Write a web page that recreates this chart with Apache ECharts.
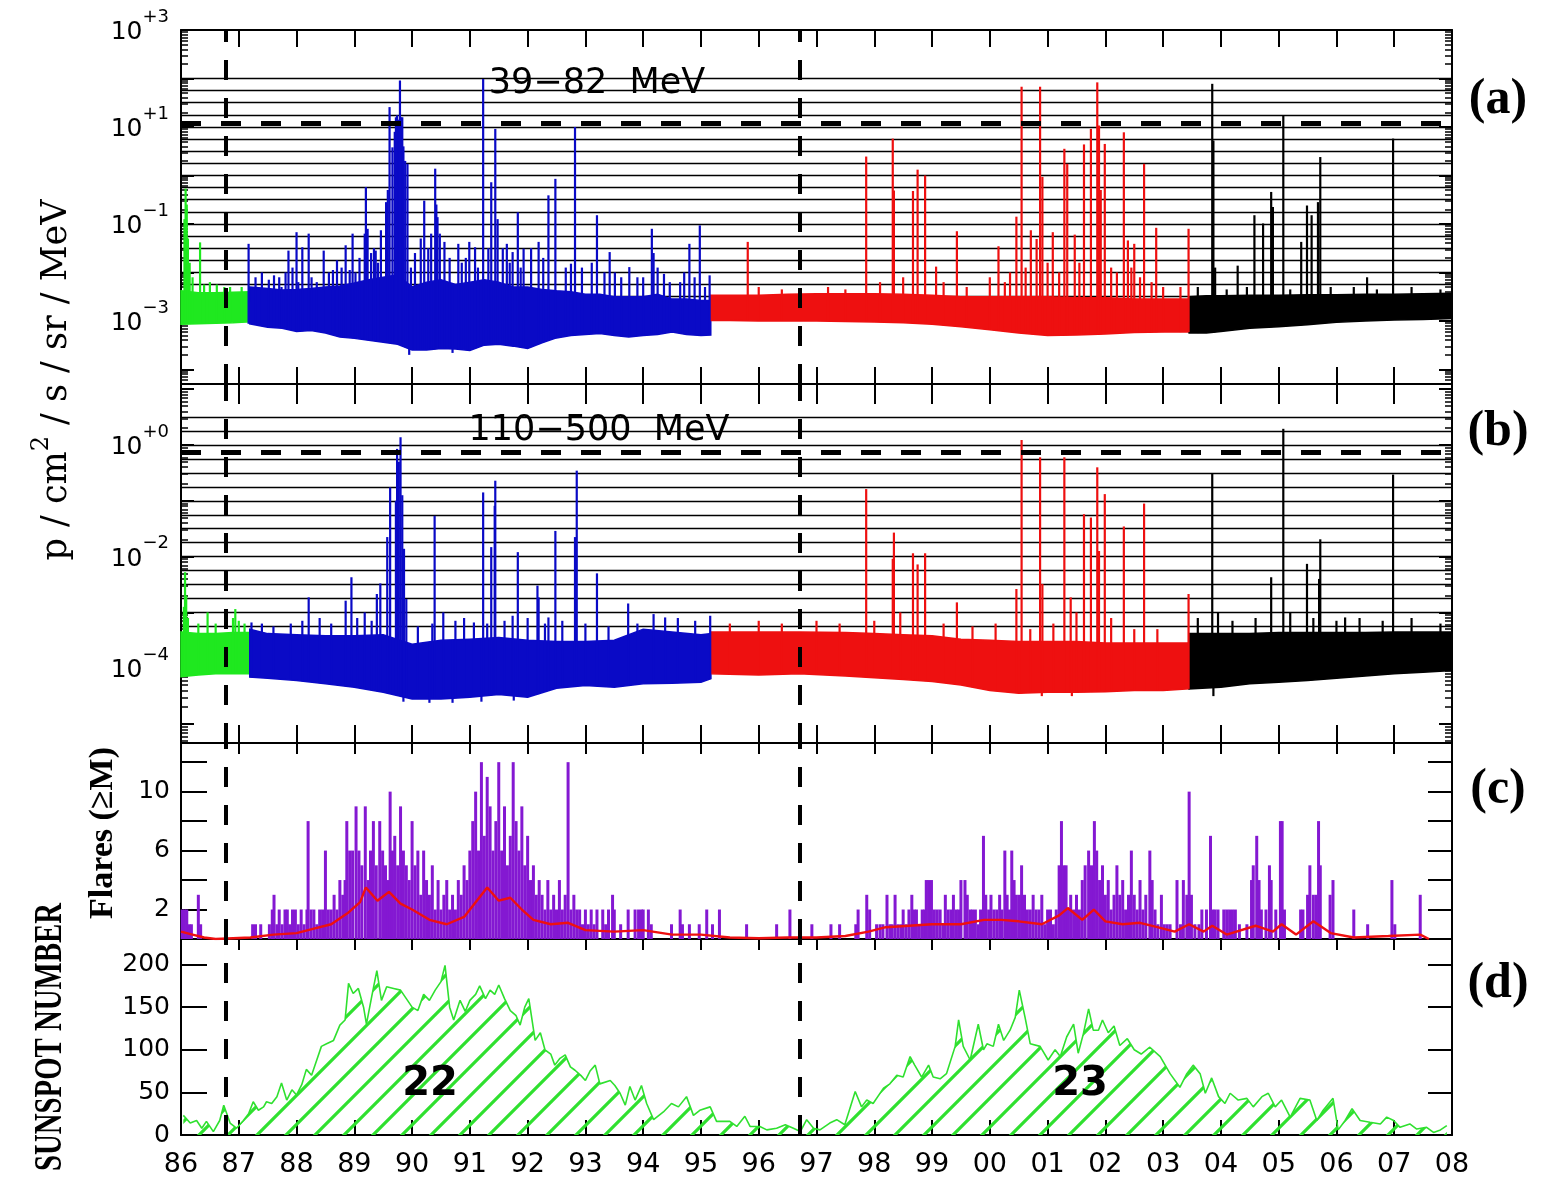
<!DOCTYPE html>
<html><head><meta charset="utf-8">
<script src="https://cdn.jsdelivr.net/npm/echarts@6/dist/echarts.min.js"></script>
<style>html,body{margin:0;padding:0;background:#fff;}#c{width:1543px;height:1185px;}</style>
</head><body><div id="c"></div>
<script>
// ---------------- DATA (years as decimal years; particle fluxes as log10 exponents) ----------------
const xTickLabels = ['86','87','88','89','90','91','92','93','94','95','96','97','98','99','00','01','02','03','04','05','06','07','08'];
const minimaYears = [1986.78, 1996.71];
const aYLabelExps = [-3, -1, 1, 3];
const bYLabelExps = [-4, -2, 0];
const aThreshold = 1.07;   // log10 of dashed level, panel a
const bThreshold = -0.125; // log10 of dashed level, panel b

// Panel (a) 39-82 MeV : background band envelopes
const aGreenT  = [1986.0, 1986.3, 1986.6, 1986.9, 1987.19];
const aGreenHi = [-2.38, -2.42, -2.42, -2.41, -2.40];
const aGreenLo = [-3.07, -3.06, -3.05, -3.04, -3.02];
const aBlueT  = [1987.19,1987.5,1987.75,1988.0,1988.25,1988.5,1988.75,1989.0,1989.25,1989.5,1989.75,1990.0,1990.25,1990.5,1990.75,1991.0,1991.25,1991.5,1991.75,1992.0,1992.25,1992.5,1992.75,1993.0,1993.25,1993.5,1993.75,1994.0,1994.25,1994.5,1994.75,1995.0,1995.17];
const aBlueHi = [-2.30,-2.33,-2.36,-2.35,-2.33,-2.30,-2.28,-2.22,-2.15,-2.10,-2.05,-2.30,-2.20,-2.15,-2.25,-2.20,-2.15,-2.20,-2.30,-2.30,-2.35,-2.38,-2.40,-2.45,-2.45,-2.50,-2.50,-2.50,-2.45,-2.55,-2.55,-2.58,-2.58];
const aBlueLo = [-3.06,-3.13,-3.15,-3.22,-3.20,-3.25,-3.33,-3.36,-3.40,-3.44,-3.48,-3.60,-3.60,-3.57,-3.58,-3.61,-3.50,-3.48,-3.52,-3.57,-3.45,-3.35,-3.30,-3.28,-3.26,-3.30,-3.33,-3.30,-3.28,-3.23,-3.28,-3.30,-3.29];
const aRedT  = [1995.17,1995.5,1996.0,1996.5,1997.0,1997.5,1998.0,1998.5,1999.0,1999.5,2000.0,2000.5,2001.0,2001.5,2002.0,2002.5,2003.0,2003.45];
const aRedHi = [-2.47,-2.47,-2.47,-2.45,-2.44,-2.44,-2.44,-2.45,-2.47,-2.50,-2.50,-2.50,-2.50,-2.52,-2.52,-2.55,-2.55,-2.55];
const aRedLo = [-2.99,-2.99,-3.00,-3.00,-3.00,-3.01,-3.02,-3.04,-3.07,-3.12,-3.18,-3.25,-3.30,-3.29,-3.27,-3.24,-3.23,-3.23];
const aBlackT  = [2003.45,2003.75,2004.0,2004.5,2005.0,2005.5,2006.0,2006.5,2007.0,2007.5,2008.0];
const aBlackHi = [-2.50,-2.48,-2.48,-2.47,-2.47,-2.46,-2.46,-2.45,-2.45,-2.44,-2.43];
const aBlackLo = [-3.25,-3.25,-3.22,-3.15,-3.12,-3.08,-3.03,-3.00,-2.98,-2.97,-2.95];
// Panel (a) event peaks and small excursions [year, log10 value]
const aGreenSpikes = [[1986.06,-0.9],[1986.08,-0.27],[1986.10,-0.6],[1986.12,-1.3],[1986.15,-1.8],[1986.20,-2.1],[1986.33,-1.38],[1986.40,-2.25],[1986.50,-2.2],[1986.62,-2.25],[1986.75,-2.3],[1986.85,-2.3],[1987.05,-2.3]];
const aBlueSpikes = [[1987.17,-1.41],[1987.29,-2.1],[1987.40,-2.0],[1987.52,-2.15],[1987.61,-2.06],[1987.70,-2.1],[1987.74,-2.3],[1987.81,-2.0],[1987.86,-1.55],[1987.93,-1.9],[1988.0,-1.17],[1988.03,-2.2],[1988.1,-1.48],[1988.21,-1.2],[1988.26,-2.1],[1988.35,-2.2],[1988.47,-1.55],[1988.56,-2.0],[1988.63,-1.95],[1988.7,-1.75],[1988.78,-1.9],[1988.85,-1.44],[1988.92,-1.95],[1988.97,-1.2],[1989.02,-2.0],[1989.09,-1.7],[1989.18,-1.2],[1989.20,-0.24],[1989.23,-1.1],[1989.29,-1.6],[1989.34,-1.5],[1989.37,-1.55],[1989.41,-1.8],[1989.46,-1.13],[1989.55,-0.55],[1989.58,-0.3],[1989.61,1.41],[1989.66,0.58],[1989.70,0.9],[1989.72,1.2],[1989.74,1.24],[1989.76,1.15],[1989.79,1.96],[1989.81,1.2],[1989.83,1.2],[1989.85,0.6],[1989.88,0.3],[1989.92,0.24],[1989.95,-3.7],[1989.98,-1.9],[1990.05,-1.6],[1990.15,-1.3],[1990.21,-0.52],[1990.28,-1.5],[1990.33,-1.2],[1990.40,0.14],[1990.42,-0.6],[1990.44,-0.86],[1990.48,-1.2],[1990.56,-1.37],[1990.65,-1.7],[1990.70,-3.66],[1990.8,-1.41],[1990.86,-1.8],[1990.93,-1.7],[1990.99,-1.37],[1991.09,-1.48],[1991.14,-1.9],[1991.23,1.99],[1991.32,-1.5],[1991.37,-0.14],[1991.44,0.96],[1991.48,-0.9],[1991.57,-1.5],[1991.64,-1.41],[1991.69,-1.8],[1991.74,-1.58],[1991.83,-0.76],[1991.88,-1.9],[1991.93,-1.51],[1992.06,-1.5],[1992.19,-1.37],[1992.27,-1.7],[1992.36,-0.41],[1992.48,-0.07],[1992.66,-1.9],[1992.75,-1.82],[1992.82,1.0],[1992.94,-1.9],[1993.11,-1.8],[1993.2,-0.82],[1993.33,-2.0],[1993.42,-1.58],[1993.51,-2.0],[1993.62,-2.1],[1993.76,-1.89],[1993.90,-2.1],[1994.0,-2.1],[1994.15,-1.1],[1994.18,-1.6],[1994.25,-1.9],[1994.36,-2.03],[1994.46,-2.2],[1994.64,-2.2],[1994.71,-2.0],[1994.8,-1.41],[1994.89,-2.1],[1994.98,-1.03],[1995.07,-2.3],[1995.15,-2.06]];
const aRedSpikes = [[1995.81,-1.37],[1996.0,-2.3],[1996.4,-2.35],[1997.2,-2.3],[1997.5,-2.35],[1997.86,0.39],[1998.1,-2.2],[1998.32,0.76],[1998.34,-0.31],[1998.5,-2.1],[1998.67,-0.32],[1998.75,0.12],[1998.88,0.0],[1999.07,-1.88],[1999.2,-2.2],[1999.43,-1.15],[1999.6,-2.3],[2000.0,-2.1],[2000.15,-1.46],[2000.26,-2.2],[2000.35,-2.0],[2000.46,-0.85],[2000.55,1.83],[2000.62,-1.9],[2000.71,-1.13],[2000.81,-1.31],[2000.87,1.83],[2000.91,-0.03],[2001.0,-1.8],[2001.09,-1.17],[2001.2,-2.0],[2001.29,0.55],[2001.34,0.24],[2001.47,-1.22],[2001.55,-1.8],[2001.63,0.64],[2001.75,0.96],[2001.86,1.92],[2001.89,1.03],[2001.92,-0.3],[2001.99,0.65],[2002.1,-1.9],[2002.2,-2.0],[2002.32,0.89],[2002.39,-1.34],[2002.45,-1.9],[2002.5,-1.41],[2002.6,-2.1],[2002.67,0.24],[2002.8,-2.2],[2002.88,-1.08],[2003.0,-2.3],[2003.3,-2.3],[2003.44,-1.1]];
const aBlackSpikes = [[2003.6,-2.3],[2003.85,1.89],[2003.87,0.72],[2003.90,-1.9],[2004.1,-2.35],[2004.29,-1.86],[2004.45,-2.3],[2004.58,-0.82],[2004.73,-0.99],[2004.87,-0.34],[2004.90,-0.65],[2005.08,1.24],[2005.2,-2.35],[2005.39,-1.37],[2005.49,-0.62],[2005.57,-0.82],[2005.68,-0.55],[2005.72,0.38],[2005.9,-2.3],[2006.3,-2.3],[2006.53,-2.1],[2006.7,-2.35],[2006.98,0.76],[2007.3,-2.3],[2007.8,-2.35]];

// Panel (b) 110-500 MeV : background band envelopes
const bGreenT  = [1986.0, 1986.3, 1986.6, 1986.9, 1987.19];
const bGreenHi = [-3.35, -3.38, -3.38, -3.36, -3.36];
const bGreenLo = [-4.15, -4.12, -4.10, -4.10, -4.10];
const bBlueT  = [1987.19,1987.5,1988.0,1988.5,1989.0,1989.5,1990.0,1990.5,1991.0,1991.5,1992.0,1992.5,1993.0,1993.5,1994.0,1994.5,1995.0,1995.17];
const bBlueHi = [-3.30,-3.38,-3.40,-3.42,-3.42,-3.40,-3.57,-3.50,-3.48,-3.45,-3.50,-3.52,-3.52,-3.50,-3.30,-3.35,-3.40,-3.38];
const bBlueLo = [-4.16,-4.18,-4.22,-4.28,-4.34,-4.43,-4.55,-4.55,-4.52,-4.47,-4.52,-4.36,-4.31,-4.34,-4.28,-4.27,-4.25,-4.19];
const bRedT  = [1995.17,1996.0,1996.7,1997.5,1998.0,1998.5,1999.0,1999.5,2000.0,2000.5,2001.0,2001.5,2002.0,2002.5,2003.0,2003.45];
const bRedHi = [-3.35,-3.35,-3.35,-3.36,-3.38,-3.40,-3.42,-3.48,-3.50,-3.52,-3.52,-3.52,-3.55,-3.55,-3.55,-3.55];
const bRedLo = [-4.10,-4.12,-4.10,-4.14,-4.17,-4.20,-4.24,-4.30,-4.40,-4.45,-4.43,-4.43,-4.42,-4.40,-4.40,-4.37];
const bBlackT  = [2003.45,2004.0,2004.5,2005.0,2005.5,2006.0,2006.5,2007.0,2007.5,2008.0];
const bBlackHi = [-3.38,-3.38,-3.38,-3.36,-3.36,-3.36,-3.36,-3.35,-3.35,-3.35];
const bBlackLo = [-4.37,-4.34,-4.28,-4.25,-4.22,-4.18,-4.14,-4.10,-4.07,-4.04];
const bGreenSpikes = [[1986.05,-2.9],[1986.07,-2.28],[1986.09,-2.7],[1986.12,-3.1],[1986.30,-3.2],[1986.46,-3.0],[1986.6,-3.2],[1986.90,-3.1],[1986.94,-2.94],[1987.00,-3.15],[1987.1,-3.2]];
const bBlueSpikes = [[1987.22,-3.18],[1987.4,-3.2],[1987.6,-3.25],[1987.9,-3.2],[1988.1,-3.15],[1988.21,-2.73],[1988.4,-3.1],[1988.6,-3.2],[1988.85,-2.79],[1988.95,-2.37],[1989.05,-3.1],[1989.18,-3.0],[1989.3,-3.15],[1989.39,-2.67],[1989.45,-2.48],[1989.57,-1.65],[1989.62,-0.76],[1989.72,-1.0],[1989.74,-0.07],[1989.77,-0.3],[1989.80,0.14],[1989.83,-0.9],[1989.85,-4.6],[1989.86,-1.86],[1989.90,-2.76],[1990.1,-3.25],[1990.3,-4.62],[1990.35,-3.2],[1990.39,-1.27],[1990.54,-3.0],[1990.7,-4.62],[1990.75,-3.15],[1990.9,-3.1],[1991.07,-3.18],[1991.2,-4.6],[1991.23,-0.85],[1991.3,-3.2],[1991.37,-1.83],[1991.43,-1.09],[1991.44,-0.64],[1991.6,-3.15],[1991.74,-3.06],[1991.76,-4.58],[1991.83,-1.92],[1992.0,-3.1],[1992.17,-2.52],[1992.19,-2.73],[1992.3,-3.2],[1992.36,-3.09],[1992.48,-1.54],[1992.6,-3.15],[1992.82,-1.65],[1992.85,-0.46],[1993.0,-3.2],[1993.20,-2.3],[1993.4,-3.25],[1993.74,-2.84],[1993.9,-3.2],[1994.18,-3.03],[1994.38,-3.09],[1994.6,-3.1],[1994.9,-3.15],[1995.16,-3.06]];
const bRedSpikes = [[1995.5,-3.2],[1996.0,-3.15],[1996.4,-3.2],[1997.0,-3.15],[1997.4,-3.2],[1997.86,-0.79],[1998.0,-3.15],[1998.32,-2.04],[1998.34,-1.57],[1998.45,-3.0],[1998.67,-1.94],[1998.75,-2.14],[1998.88,-1.94],[1999.2,-3.2],[1999.43,-2.82],[1999.7,-3.25],[2000.1,-3.2],[2000.46,-2.58],[2000.55,0.09],[2000.7,-3.3],[2000.87,-0.22],[2000.9,-4.5],[2000.91,-2.49],[2001.1,-3.2],[2001.29,-0.22],[2001.40,-2.73],[2001.42,-4.5],[2001.5,-3.0],[2001.63,-1.24],[2001.75,-1.3],[2001.86,-0.4],[2001.89,-1.9],[2001.99,-0.88],[2002.1,-3.1],[2002.32,-1.46],[2002.5,-3.3],[2002.67,-1.05],[2002.9,-3.3],[2003.44,-2.67]];
const bBlackSpikes = [[2003.6,-3.1],[2003.85,-0.51],[2003.87,-4.5],[2003.95,-3.0],[2004.2,-3.15],[2004.6,-3.1],[2004.87,-2.37],[2005.08,0.29],[2005.2,-3.0],[2005.49,-2.13],[2005.6,-3.1],[2005.70,-2.4],[2005.72,-1.69],[2006.0,-3.15],[2006.15,-3.09],[2006.4,-3.1],[2006.8,-3.15],[2006.98,-0.53],[2007.3,-3.1],[2007.8,-3.2]];

// Panel (c) flares >= M : binned counts and running mean
const flareBins = [[1986.02,2],[1986.06,2],[1986.10,2],[1986.14,1],[1986.18,1],[1986.30,3],[1986.34,1],
[1987.24,1],[1987.29,1],[1987.38,1],[1987.53,1],[1987.58,2],[1987.61,3],[1987.66,1],[1987.70,2],[1987.75,1],[1987.80,2],[1987.84,2],[1987.88,1],[1987.93,2],[1987.98,2],[1988.03,1],[1988.08,2],[1988.13,1],
[1988.18,2],[1988.20,8],[1988.25,2],[1988.30,2],[1988.35,1],[1988.40,2],[1988.45,2],[1988.50,6],[1988.55,2],[1988.60,2],[1988.65,3],[1988.70,2],[1988.75,4],[1988.80,3],[1988.84,4],[1988.87,8],[1988.92,6],[1988.97,6],
[1989.03,9],[1989.08,6],[1989.13,5],[1989.19,9],[1989.24,4],[1989.28,6],[1989.33,8],[1989.38,5],[1989.44,8],[1989.49,6],[1989.54,5],[1989.58,4],[1989.62,10],[1989.66,6],
[1989.70,7],[1989.75,5],[1989.80,9],[1989.85,6],[1989.90,5],[1989.95,4],[1990.00,8],[1990.05,5],[1990.10,6],[1990.15,3],[1990.20,6],[1990.25,4],[1990.30,3],[1990.35,5],[1990.40,2],[1990.45,4],[1990.50,2],[1990.55,3],[1990.60,4],[1990.65,2],[1990.70,3],[1990.75,2],[1990.80,4],[1990.85,3],[1990.90,5],[1990.95,4],
[1991.00,6],[1991.05,8],[1991.10,10],[1991.15,6],[1991.20,12],[1991.25,7],[1991.30,11],[1991.35,9],[1991.40,6],[1991.45,8],[1991.50,12],[1991.55,6],[1991.60,9],[1991.65,5],[1991.70,7],[1991.75,12],[1991.80,8],[1991.85,6],[1991.90,9],[1991.95,5],
[1992.00,7],[1992.05,4],[1992.10,5],[1992.15,3],[1992.20,4],[1992.25,3],[1992.30,2],[1992.35,4],[1992.40,2],[1992.45,3],[1992.50,2],[1992.55,4],[1992.60,2],[1992.65,3],[1992.70,12],[1992.75,2],[1992.80,3],[1992.85,2],[1992.90,2],[1992.95,1],
[1993.00,2],[1993.05,1],[1993.10,2],[1993.15,1],[1993.20,2],[1993.30,2],[1993.35,1],[1993.40,2],[1993.47,3],[1993.50,2],[1993.61,1],[1993.74,2],[1993.86,2],[1993.92,2],[1993.97,2],[1994.00,2],[1994.09,2],[1994.14,1],[1994.49,1],[1994.64,2],[1994.68,1],[1994.80,1],[1994.97,1],[1995.10,2],[1995.20,1],[1995.32,2],[1995.79,1],[1996.31,1],[1996.54,2],[1996.92,1],[1997.25,1],[1997.40,1],[1997.68,1],[1997.72,2],[1997.87,3],[1997.92,2],[1998.04,1],
[1998.10,1],[1998.15,1],[1998.22,3],[1998.27,1],[1998.31,1],[1998.36,3],[1998.41,1],[1998.46,1],[1998.50,2],[1998.55,1],[1998.60,2],[1998.65,3],[1998.69,2],[1998.73,2],[1998.78,1],[1998.83,2],[1998.87,2],[1998.90,4],[1998.94,4],[1998.99,4],
[1999.04,2],[1999.09,2],[1999.14,2],[1999.19,1],[1999.23,3],[1999.28,2],[1999.33,2],[1999.37,3],[1999.42,2],[1999.46,2],[1999.50,4],[1999.57,4],[1999.61,3],[1999.66,2],[1999.70,2],[1999.75,2],[1999.80,1],[1999.84,2],[1999.89,7],[1999.93,3],[1999.98,2],
[2000.02,3],[2000.07,2],[2000.12,2],[2000.17,3],[2000.21,2],[2000.26,6],[2000.30,3],[2000.34,2],[2000.38,6],[2000.42,4],[2000.46,3],[2000.51,3],[2000.55,5],[2000.60,3],[2000.65,2],[2000.70,2],[2000.75,3],[2000.80,2],[2000.85,2],[2000.90,3],[2000.95,1],
[2001.00,2],[2001.05,2],[2001.10,1],[2001.15,2],[2001.20,5],[2001.24,8],[2001.28,5],[2001.32,5],[2001.36,2],[2001.40,3],[2001.45,2],[2001.50,3],[2001.55,2],[2001.60,4],[2001.65,5],[2001.71,6],[2001.76,5],[2001.81,8],[2001.85,6],[2001.90,4],[2001.95,5],
[2002.00,3],[2002.05,4],[2002.10,2],[2002.15,3],[2002.20,5],[2002.25,3],[2002.30,4],[2002.35,2],[2002.40,3],[2002.45,6],[2002.50,3],[2002.55,2],[2002.60,4],[2002.65,2],[2002.70,3],[2002.77,6],[2002.81,4],[2002.86,2],[2002.91,1],[2002.97,3],
[2003.02,1],[2003.07,1],[2003.12,1],[2003.24,4],[2003.30,1],[2003.35,4],[2003.41,3],[2003.45,10],[2003.49,3],[2003.55,1],[2003.62,1],[2003.67,2],[2003.75,2],[2003.82,7],[2003.86,2],[2003.90,2],[2003.95,2],
[2004.05,2],[2004.10,2],[2004.15,2],[2004.20,2],[2004.25,2],[2004.32,1],[2004.45,1],[2004.53,4],[2004.56,5],[2004.62,7],[2004.66,4],[2004.70,2],[2004.78,2],[2004.84,5],[2004.87,4],[2004.95,2],
[2005.03,8],[2005.06,8],[2005.10,2],[2005.38,2],[2005.42,2],[2005.50,3],[2005.54,5],[2005.60,3],[2005.65,3],[2005.69,8],[2005.72,5],[2005.89,3],[2005.94,4],[2006.30,2],[2006.54,1],[2006.96,4],[2007.01,1],[2007.45,3]];
const flareMean = [[1986.0,0.5],[1986.2,0.3],[1986.4,0.1],[1986.6,0.0],[1987.2,0.1],[1987.6,0.3],[1988.0,0.4],[1988.3,0.7],[1988.6,1.0],[1988.9,1.8],[1989.1,2.5],[1989.2,3.5],[1989.4,2.6],[1989.6,3.2],[1989.8,2.4],[1990.0,2.0],[1990.3,1.3],[1990.6,1.0],[1990.9,1.5],[1991.1,2.5],[1991.3,3.5],[1991.5,2.6],[1991.7,2.8],[1991.9,2.0],[1992.1,1.3],[1992.4,1.0],[1992.7,1.1],[1993.0,0.6],[1993.5,0.5],[1994.0,0.6],[1994.5,0.3],[1995.0,0.3],[1995.5,0.1],[1996.0,0.05],[1996.5,0.1],[1997.0,0.1],[1997.5,0.2],[1997.9,0.5],[1998.2,0.8],[1998.6,0.9],[1999.0,1.0],[1999.5,1.0],[1999.9,1.3],[2000.2,1.3],[2000.5,1.2],[2000.9,1.0],[2001.2,1.6],[2001.35,2.1],[2001.6,1.3],[2001.8,2.0],[2002.0,1.2],[2002.3,1.0],[2002.6,1.1],[2002.9,0.8],[2003.2,0.5],[2003.45,1.0],[2003.7,0.5],[2003.85,0.9],[2004.1,0.3],[2004.6,0.9],[2004.9,0.5],[2005.05,1.0],[2005.3,0.3],[2005.6,1.2],[2005.9,0.4],[2006.3,0.1],[2006.9,0.2],[2007.45,0.3],[2007.6,0.0]];

// Panel (d) monthly sunspot number
const sunspot = [[1986.04,23],[1986.16,14],[1986.27,17],[1986.36,8],[1986.44,16],[1986.56,4],[1986.67,17],[1986.74,35],[1986.85,14],[1986.96,8],
[1987.08,17],[1987.17,25],[1987.25,39],[1987.34,29],[1987.43,33],[1987.48,39],[1987.57,37],[1987.66,45],[1987.74,61],[1987.83,41],[1987.92,53],
[1988.0,47],[1988.09,59],[1988.17,77],[1988.26,70],[1988.35,88],[1988.43,104],[1988.52,107],[1988.64,111],[1988.75,129],[1988.84,135],[1988.9,178],[1988.98,166],
[1989.07,172],[1989.16,150],[1989.21,130],[1989.3,162],[1989.39,193],[1989.47,158],[1989.56,174],[1989.68,172],[1989.8,170],[1989.9,160],
[1990.0,150],[1990.1,146],[1990.2,165],[1990.3,158],[1990.4,170],[1990.5,180],[1990.57,199],[1990.65,150],[1990.72,135],[1990.83,158],[1990.92,145],
[1991.0,158],[1991.1,165],[1991.17,175],[1991.27,160],[1991.35,170],[1991.43,165],[1991.5,176],[1991.6,160],[1991.7,146],[1991.8,140],[1991.87,129],[1991.95,150],
[1992.02,160],[1992.13,111],[1992.22,120],[1992.3,100],[1992.4,95],[1992.47,82],[1992.56,90],[1992.65,94],[1992.74,80],[1992.82,76],[1992.92,70],
[1993.0,64],[1993.08,75],[1993.17,82],[1993.25,60],[1993.43,64],[1993.51,58],[1993.6,49],[1993.69,35],[1993.77,57],[1993.86,41],[1993.97,58],
[1994.06,37],[1994.18,18],[1994.35,27],[1994.49,37],[1994.61,33],[1994.75,45],[1994.87,23],[1994.98,29],
[1995.16,33],[1995.27,16],[1995.5,16],[1995.62,10],[1995.76,22],[1995.85,10],
[1996.02,10],[1996.14,6],[1996.31,8],[1996.46,12],[1996.6,8],[1996.72,4],[1996.83,18],[1996.95,8],
[1997.06,6],[1997.23,14],[1997.35,18],[1997.49,12],[1997.67,51],[1997.78,33],[1997.87,41],[1997.98,37],
[1998.16,55],[1998.27,60],[1998.39,70],[1998.5,68],[1998.62,92],[1998.7,82],[1998.82,68],[1998.94,82],
[1999.02,68],[1999.14,66],[1999.25,72],[1999.4,104],[1999.46,135],[1999.54,104],[1999.66,88],[1999.8,130],[1999.89,100],[1999.95,107],
[2000.06,104],[2000.15,130],[2000.24,111],[2000.35,123],[2000.44,138],[2000.51,170],[2000.61,138],[2000.7,107],[2000.87,104],
[2001.01,88],[2001.13,100],[2001.22,92],[2001.33,115],[2001.45,130],[2001.53,96],[2001.62,119],[2001.71,148],[2001.79,123],[2001.88,123],[2001.95,135],
[2002.05,120],[2002.15,128],[2002.25,105],[2002.38,113],[2002.5,100],[2002.62,95],[2002.77,103],[2002.95,92],
[2003.12,72],[2003.29,56],[2003.41,72],[2003.52,82],[2003.64,72],[2003.73,49],[2003.84,67],[2003.96,45],
[2004.07,37],[2004.16,49],[2004.3,41],[2004.45,43],[2004.56,33],[2004.71,45],[2004.82,49],[2004.94,33],
[2005.05,41],[2005.2,21],[2005.37,43],[2005.54,41],[2005.66,17],[2005.77,29],[2005.94,43],
[2006.03,6],[2006.15,17],[2006.27,31],[2006.41,17],[2006.58,15],[2006.76,13],[2006.87,21],[2006.99,17],
[2007.1,9],[2007.27,13],[2007.39,7],[2007.56,9],[2007.68,3],[2007.8,6],[2007.91,11]];

// ---------------- STYLE ----------------
const C_GREEN = '#1fe81f', C_BLUE = '#0a0ac6', C_RED = '#ee1010', C_BLACK = '#000000';
const C_PURPLE = '#8418d2', C_SSN = '#2fe02f';
const AX = {color:'#000', width:2};
const SANS = 'DejaVu Sans', SERIF = 'Liberation Serif';

function interp(T, V, t) {
  if (t <= T[0]) return V[0];
  for (let i = 1; i < T.length; i++) if (t <= T[i]) { const f = (t - T[i-1]) / (T[i] - T[i-1]); return V[i-1] + f * (V[i] - V[i-1]); }
  return V[V.length - 1];
}
function bandSeries(xi, yi, T, LO, HI, color) {
  const rows = T.map((t, i) => [t, LO[i], HI[i]]);
  return {type:'custom', xAxisIndex:xi, yAxisIndex:yi, z:3, silent:true, data:rows, encode:{x:0, y:[1,2]},
    renderItem(params, api) {
      if (params.dataIndex !== 0) return null;
      const up = rows.map(r => api.coord([r[0], r[2]]));
      const dn = rows.slice().reverse().map(r => api.coord([r[0], r[1]]));
      return {type:'polygon', shape:{points: up.concat(dn)}, style:{fill:color, stroke:color, lineWidth:1.5}};
    }};
}
function spikeSeries(xi, yi, spikes, T, LO, HI, color) {
  return {type:'custom', xAxisIndex:xi, yAxisIndex:yi, z:4, silent:true, data:spikes, encode:{x:0, y:1},
    renderItem(params, api) {
      const t = api.value(0), e = api.value(1);
      const lo = interp(T, LO, t), hi = interp(T, HI, t);
      const from = e < lo ? hi : lo;
      const p1 = api.coord([t, from]), p2 = api.coord([t, e]);
      return {type:'line', shape:{x1:p1[0], y1:p1[1], x2:p2[0], y2:p2[1]}, style:{stroke:color, lineWidth:2.2}};
    }};
}
function xAxis(g, pos, tickLen, labels) {
  return {type:'value', gridIndex:g, position:pos, min:1986, max:2008, interval:1,
    axisLine:{show:true, onZero:false, lineStyle:AX},
    axisTick:{show:tickLen > 0, inside:true, length:tickLen, lineStyle:AX},
    axisLabel:{show:labels, margin:16, fontSize:27, fontFamily:SANS, color:'#000',
      formatter: v => xTickLabels[Math.round(v - 1986)]},
    splitLine:{show:false}};
}
function range(a, b, step) { const r = []; for (let v = a; v <= b + 1e-9; v += step) r.push(+v.toFixed(4)); return r; }
function minorList(lo, hi) {
  const r = [];
  for (let k = Math.floor(lo); k <= Math.ceil(hi); k++) for (let m = 2; m <= 9; m++) { const v = k + Math.log10(m); if (v > lo && v < hi) r.push(v); }
  return r;
}
const expFmt = v => '{b|10}{s|' + (v >= 0 ? '+' : '\u2212') + Math.abs(Math.round(v)) + '}';
function logAxes(g, min, max, labelExps) {
  const majors = range(Math.ceil(min), Math.floor(max), 1);
  const minors = minorList(min, max);
  const base = {type:'value', gridIndex:g, min, max, splitLine:{show:false}};
  return [
    Object.assign({}, base, {position:'left', axisLine:{show:true, onZero:false, lineStyle:AX},
      axisTick:{show:true, inside:true, length:13, customValues:majors, lineStyle:AX},
      axisLabel:{show:true, customValues:labelExps, margin:12, formatter:expFmt, color:'#000',
        rich:{b:{fontSize:25, fontFamily:SANS, lineHeight:30, verticalAlign:'bottom'},
              s:{fontSize:18, fontFamily:SANS, lineHeight:20, padding:[0,0,19,0], verticalAlign:'bottom'}}}}),
    Object.assign({}, base, {position:'left', axisLine:{show:false, onZero:false},
      axisTick:{show:true, inside:true, length:7, customValues:minors, lineStyle:{color:'#000', width:1.5}}, axisLabel:{show:false}}),
    Object.assign({}, base, {position:'right', axisLine:{show:true, onZero:false, lineStyle:AX},
      axisTick:{show:true, inside:true, length:13, customValues:majors, lineStyle:AX}, axisLabel:{show:false}}),
    Object.assign({}, base, {position:'right', axisLine:{show:false, onZero:false},
      axisTick:{show:true, inside:true, length:7, customValues:minors, lineStyle:{color:'#000', width:1.5}}, axisLabel:{show:false}})
  ];
}
function linAxes(g, min, max, ticks, labels) {
  const base = {type:'value', gridIndex:g, min, max, splitLine:{show:false}};
  return [
    Object.assign({}, base, {position:'left', axisLine:{show:true, onZero:false, lineStyle:AX},
      axisTick:{show:true, inside:true, length:26, customValues:ticks, lineStyle:AX},
      axisLabel:{show:true, customValues:labels, margin:11, fontSize:25, fontFamily:SANS, color:'#000'}}),
    Object.assign({}, base, {position:'right', axisLine:{show:true, onZero:false, lineStyle:AX},
      axisTick:{show:true, inside:true, length:24, customValues:ticks, lineStyle:AX}, axisLabel:{show:false}})
  ];
}
function decoSeries(xi, yi, yMin, hLevels, dashedLevel) {
  const mlData = hLevels.map(v => ({yAxis:v, lineStyle:{type:'solid', width:1.4, color:'#000'}}));
  const s1 = {type:'line', xAxisIndex:xi, yAxisIndex:yi, z:1, silent:true, symbol:'none', data:[[1986, yMin]], lineStyle:{opacity:0},
    markLine:{z:1, silent:true, symbol:['none','none'], label:{show:false}, animation:false, data:mlData}};
  const dl = minimaYears.map(v => ({xAxis:v}));
  if (dashedLevel !== null) dl.push({yAxis:dashedLevel, lineStyle:{type:[20,20], width:5, color:'#000'}});
  const s2 = {type:'line', xAxisIndex:xi, yAxisIndex:yi, z:6, silent:true, symbol:'none', data:[[1986, yMin]], lineStyle:{opacity:0},
    markLine:{z:6, silent:true, symbol:['none','none'], label:{show:false}, animation:false,
      lineStyle:{type:[20,18], width:4, color:'#000'}, data:dl}};
  return [s1, s2];
}
function hatch() {
  const c = document.createElement('canvas'); c.width = 29; c.height = 29;
  const ctx = c.getContext('2d'); ctx.strokeStyle = C_SSN; ctx.lineWidth = 3.2;
  ctx.beginPath();
  ctx.moveTo(-2, 31); ctx.lineTo(31, -2);
  ctx.moveTo(-16, 16); ctx.lineTo(16, -16);
  ctx.moveTo(13, 45); ctx.lineTo(45, 13);
  ctx.stroke();
  return c;
}

// ---------------- LAYOUT ----------------
const L = 181, W = 1271;
const grids = [
  {left:L, width:W, top:30, height:354},
  {left:L, width:W, top:384, height:359},
  {left:L, width:W, top:743, height:196},
  {left:L, width:W, top:939, height:196}
];
const A_MIN = -4.301, A_MAX = 3.0, B_MIN = -5.34, B_MAX = 1.093;

const xAxes = [xAxis(0,'bottom',17,false), xAxis(0,'top',17,false), xAxis(1,'bottom',18,false), xAxis(1,'top',20,false),
               xAxis(2,'bottom',0,false), xAxis(2,'top',11,false), xAxis(3,'bottom',15,true), xAxis(3,'top',11,false)];
const yAxes = [].concat(logAxes(0, A_MIN, A_MAX, aYLabelExps), logAxes(1, B_MIN, B_MAX, bYLabelExps),
  linAxes(2, 0, 13.3, [2,4,6,8,10,12], [2,6,10]), linAxes(3, 0, 230, [0,50,100,150,200], [0,50,100,150,200]));

const series = [].concat(
  decoSeries(0, 0, A_MIN, range(-2.5, 2, 0.25), aThreshold),
  decoSeries(2, 4, B_MIN, range(-3.25, 0.5, 0.25), bThreshold),
  decoSeries(4, 8, 0, [], null),
  decoSeries(6, 10, 0, [], null),
  [
    bandSeries(0,0,aGreenT,aGreenLo,aGreenHi,C_GREEN), bandSeries(0,0,aBlueT,aBlueLo,aBlueHi,C_BLUE),
    bandSeries(0,0,aRedT,aRedLo,aRedHi,C_RED), bandSeries(0,0,aBlackT,aBlackLo,aBlackHi,C_BLACK),
    spikeSeries(0,0,aGreenSpikes,aGreenT,aGreenLo,aGreenHi,C_GREEN), spikeSeries(0,0,aBlueSpikes,aBlueT,aBlueLo,aBlueHi,C_BLUE),
    spikeSeries(0,0,aRedSpikes,aRedT,aRedLo,aRedHi,C_RED), spikeSeries(0,0,aBlackSpikes,aBlackT,aBlackLo,aBlackHi,C_BLACK),
    bandSeries(2,4,bGreenT,bGreenLo,bGreenHi,C_GREEN), bandSeries(2,4,bBlueT,bBlueLo,bBlueHi,C_BLUE),
    bandSeries(2,4,bRedT,bRedLo,bRedHi,C_RED), bandSeries(2,4,bBlackT,bBlackLo,bBlackHi,C_BLACK),
    spikeSeries(2,4,bGreenSpikes,bGreenT,bGreenLo,bGreenHi,C_GREEN), spikeSeries(2,4,bBlueSpikes,bBlueT,bBlueLo,bBlueHi,C_BLUE),
    spikeSeries(2,4,bRedSpikes,bRedT,bRedLo,bRedHi,C_RED), spikeSeries(2,4,bBlackSpikes,bBlackT,bBlackLo,bBlackHi,C_BLACK),
    {type:'bar', xAxisIndex:4, yAxisIndex:8, z:3, silent:true, barWidth:3, data:flareBins, itemStyle:{color:C_PURPLE}},
    {type:'line', xAxisIndex:4, yAxisIndex:8, z:4, silent:true, symbol:'none', data:flareMean, lineStyle:{color:C_RED, width:2.4}},
    {type:'line', xAxisIndex:6, yAxisIndex:10, z:3, silent:true, symbol:'none', data:sunspot,
      lineStyle:{color:C_SSN, width:1.6}, areaStyle:{color:{image:hatch(), repeat:'repeat'}, opacity:1, origin:'start'}}
  ]
);

const txt = (x, y, text, font, extra) => Object.assign({type:'text', x, y, z:100, silent:true,
  style:Object.assign({text, fill:'#000', align:'center', verticalAlign:'middle', textAlign:'center', textVerticalAlign:'middle'}, font)}, extra || {});
const graphic = [
  txt(597, 84, '39\u221282  MeV', {fontSize:35, fontFamily:SANS}),
  txt(599, 431, '110\u2212500  MeV', {fontSize:35, fontFamily:SANS}),
  txt(1498, 100, '(a)', {fontSize:50, fontFamily:SERIF, fontWeight:'bold'}),
  txt(1498, 432, '(b)', {fontSize:50, fontFamily:SERIF, fontWeight:'bold'}),
  txt(1498, 790, '(c)', {fontSize:50, fontFamily:SERIF, fontWeight:'bold'}),
  txt(1498, 984, '(d)', {fontSize:50, fontFamily:SERIF, fontWeight:'bold'}),
  txt(430, 1085, '22', {fontSize:40, fontFamily:SANS, fontWeight:'bold'}),
  txt(1080, 1085, '23', {fontSize:40, fontFamily:SANS, fontWeight:'bold'}),
  txt(52, 380, '{n|p / cm}{s|2}{n| / s / sr / MeV}', {rich:{n:{fontSize:35, fontFamily:'DejaVu Serif', lineHeight:44, verticalAlign:'bottom'}, s:{fontSize:24, fontFamily:'DejaVu Serif', lineHeight:28, padding:[0,0,20,0], verticalAlign:'bottom'}}}, {rotation:Math.PI/2}),
  txt(103, 833, 'Flares (\u2265M)', {fontSize:34, fontFamily:SERIF, fontWeight:'bold'}, {rotation:Math.PI/2}),
  txt(51, 1037, 'SUNSPOT NUMBER', {fontSize:40, fontFamily:SERIF, fontWeight:'bold'}, {rotation:Math.PI/2, scaleX:0.72})
];

const chart = echarts.init(document.getElementById('c'), null, {renderer:'canvas'});
chart.setOption({animation:false, backgroundColor:'#fff', grid:grids, xAxis:xAxes, yAxis:yAxes, series, graphic});
</script></body></html>
